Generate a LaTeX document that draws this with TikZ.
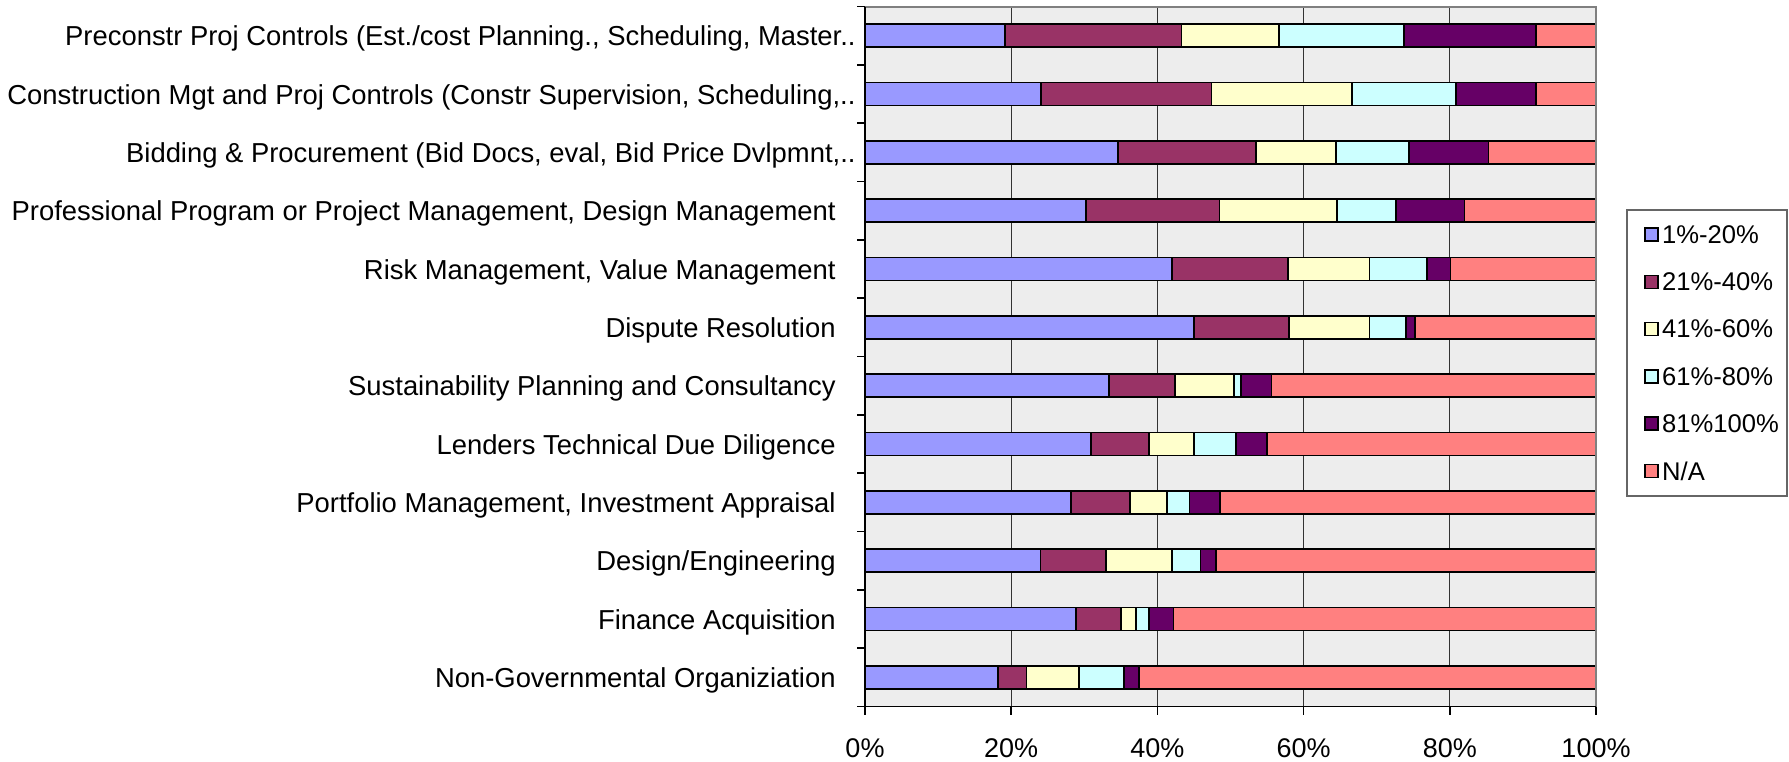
\documentclass[tikz,border=0pt]{standalone}
\usepackage{fontspec}
\setmainfont{Liberation Sans}
\usetikzlibrary{positioning}

\definecolor{lowblue}{HTML}{9999FF}
\definecolor{lowplum}{HTML}{993366}
\definecolor{midcream}{HTML}{FFFFCC}
\definecolor{highcyan}{HTML}{CCFFFF}
\definecolor{toppurple}{HTML}{660066}
\definecolor{nasalmon}{HTML}{FF8080}
\definecolor{plotgray}{HTML}{EDEDED}

\tikzset{
  seg/.style={draw=black,line width=0.9pt},
  grid/.style={draw=black!80,line width=0.6pt},
  catlabel/.style={anchor=base east,inner sep=0pt,font=\fontsize{13.7}{16}\selectfont},
  ticklabel/.style={anchor=base,inner sep=0pt,font=\fontsize{13.5}{16}\selectfont},
  legmark/.style={draw=black,line width=0.8pt,minimum size=6.5pt,inner sep=0pt},
  legtext/.style={inner sep=0pt,font=\fontsize{12.8}{15}\selectfont}
}

\begin{document}
\begin{tikzpicture}[x=0.5pt,y=-0.5pt]
\useasboundingbox (0,0) rectangle (1789,761);

\begin{scope}[xshift=432.5pt,x=3.655pt]
\fill[plotgray] (0,6.5) rectangle (100,706.5);
\foreach \p in {20,40,60,80}
  \draw[grid] (\p,6.5) -- (\p,706.5);
% bars: cumulative ends of the first five bands
\foreach \a/\b/\c/\d/\e [count=\i] in {
    19.1/43.3/56.6/73.7/91.8,
    24.1/47.4/66.6/80.8/91.8,
    34.6/53.5/64.4/74.4/85.3,
    30.2/48.5/64.6/72.6/82.0,
    42.0/57.9/69.0/76.9/80.1,
    45.0/58.0/69.0/74.0/75.2,
    33.4/42.4/50.5/51.4/55.6,
    30.9/38.9/45.0/50.8/55.0,
    28.2/36.3/41.3/44.4/48.6,
    24.0/33.0/42.0/45.9/48.0,
    28.9/35.0/37.1/38.9/42.2,
    18.2/22.1/29.3/35.4/37.5}{
  \pgfmathsetmacro\yt{24.2+58.33*(\i-1)}
  \pgfmathsetmacro\yb{\yt+23}
  \draw[seg,fill=lowblue]   (0,\yt)  rectangle (\a,\yb);
  \draw[seg,fill=lowplum]   (\a,\yt) rectangle (\b,\yb);
  \draw[seg,fill=midcream]  (\b,\yt) rectangle (\c,\yb);
  \draw[seg,fill=highcyan]  (\c,\yt) rectangle (\d,\yb);
  \draw[seg,fill=toppurple] (\d,\yt) rectangle (\e,\yb);
  \draw[seg,fill=nasalmon]  (\e,\yt) rectangle (100,\yb);
}
% frame and axes
\draw[gray,line width=1pt] (0,6.5) -- (100,6.5) -- (100,706.5);
\draw[black,line width=0.8pt] (0,6.5) -- (0,706.5) -- (100,706.5);
\foreach \k in {0,...,12}
  \draw[black,line width=0.8pt] (0,6.5+58.33*\k) -- ++(-4pt,0pt);
\foreach \p in {0,20,...,100}
  \draw[black,line width=0.8pt] (\p,706.5) -- ++(0,8);
\node[ticklabel] (t0)   at (0,757)   {0\%};
\node[ticklabel] (t20)  at (20,757)  {20\%};
\node[ticklabel] (t40)  at (40,757)  {40\%};
\node[ticklabel] (t60)  at (60,757)  {60\%};
\node[ticklabel] (t80)  at (80,757)  {80\%};
\node[ticklabel] (t100) at (100,757) {100\%};
\end{scope}

% category labels
\node[catlabel] (precon)  at (856,45.7)  {Preconstr Proj Controls (Est./cost Planning., Scheduling, Master..};
\node[catlabel] (constr)  at (856,104.0) {Construction Mgt and Proj Controls (Constr Supervision, Scheduling,..};
\node[catlabel] (bid)     at (856,162.4) {Bidding \& Procurement (Bid Docs, eval, Bid Price Dvlpmnt,..};
\node[catlabel] (prof)    at (836,220.7) {Professional Program or Project Management, Design Management};
\node[catlabel] (risk)    at (836,279.0) {Risk Management, Value Management};
\node[catlabel] (dispute) at (836,337.4) {Dispute Resolution};
\node[catlabel] (sustain) at (836,395.7) {Sustainability Planning and Consultancy};
\node[catlabel] (lender)  at (836,454.0) {Lenders Technical Due Diligence};
\node[catlabel] (folio)   at (836,512.3) {Portfolio Management, Investment Appraisal};
\node[catlabel] (design)  at (836,570.7) {Design/Engineering};
\node[catlabel] (finance) at (836,629.0) {Finance Acquisition};
\node[catlabel] (ngo)     at (836,687.3) {Non-Governmental Organiziation};

% legend
\draw[fill=white,draw=black!60,line width=0.75pt] (1627,210) rectangle (1787,496);
\node[legmark,fill=lowblue]   (mk1) at (1651.5,234.5) {};
\node[legmark,fill=lowplum]   (mk2) at (1651.5,281.8) {};
\node[legmark,fill=midcream]  (mk3) at (1651.5,329.1) {};
\node[legmark,fill=highcyan]  (mk4) at (1651.5,376.4) {};
\node[legmark,fill=toppurple] (mk5) at (1651.5,423.7) {};
\node[legmark,fill=nasalmon]  (mk6) at (1651.5,471.0) {};
\node[legtext,right=1.5pt of mk1] (lg1) {1\%-20\%};
\node[legtext,right=1.5pt of mk2] (lg2) {21\%-40\%};
\node[legtext,right=1.5pt of mk3] (lg3) {41\%-60\%};
\node[legtext,right=1.5pt of mk4] (lg4) {61\%-80\%};
\node[legtext,right=1.5pt of mk5] (lg5) {81\%100\%};
\node[legtext,right=1.5pt of mk6] (lg6) {N/A};
\end{tikzpicture}
\end{document}
